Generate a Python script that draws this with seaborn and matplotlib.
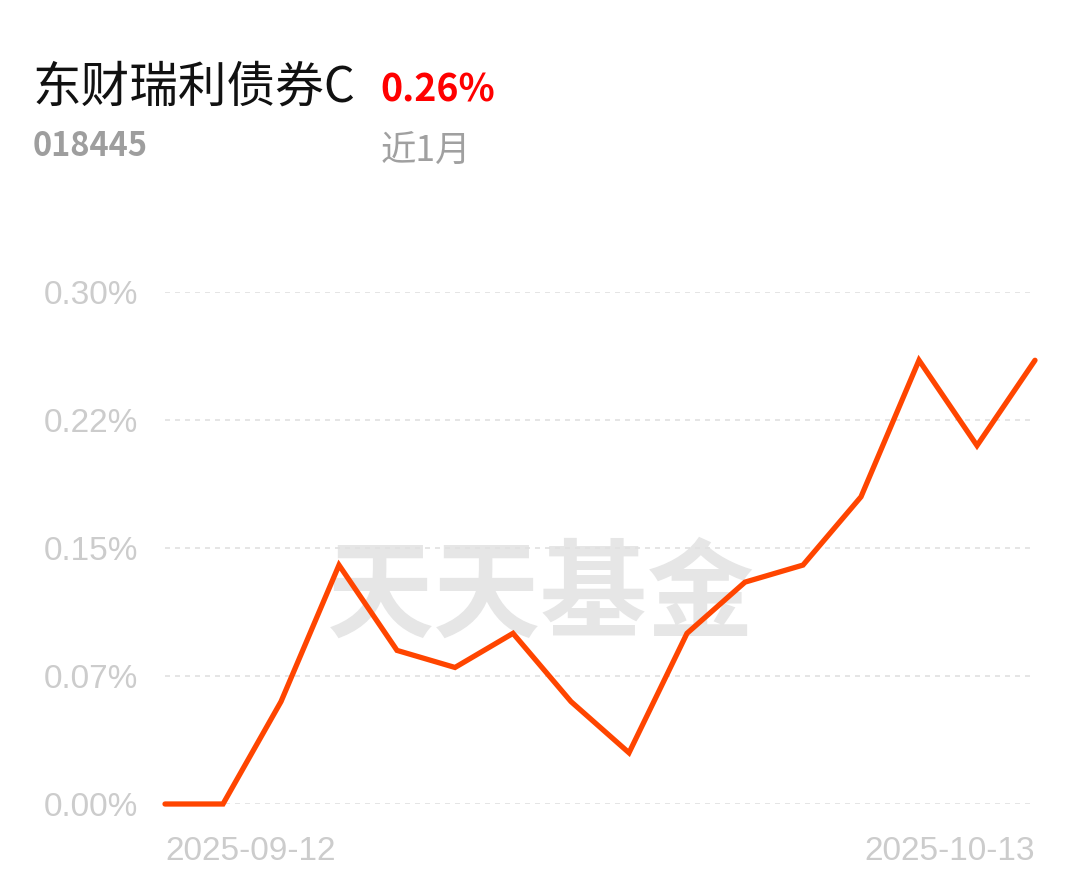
import numpy as np
import pandas as pd
import matplotlib.pyplot as plt
import seaborn as sns

# fund return over the last month (%), one value per trading day
dates = ["2025-09-12", "2025-09-15", "2025-09-16", "2025-09-17", "2025-09-18",
         "2025-09-19", "2025-09-22", "2025-09-23", "2025-09-24", "2025-09-25",
         "2025-09-26", "2025-09-29", "2025-09-30", "2025-10-09", "2025-10-10",
         "2025-10-13"]
returns = [0.00, 0.00, 0.06, 0.14, 0.09, 0.08, 0.10, 0.06, 0.03, 0.10,
           0.13, 0.14, 0.18, 0.26, 0.21, 0.26]
y_ticks = [0.0, 0.075, 0.15, 0.225, 0.30]
y_labels = ["0.00%", "0.07%", "0.15%", "0.22%", "0.30%"]

fund_name = "东财瑞利债券C"
fund_code = "018445"
period_ret = "0.26%"
period = "近1月"

df = pd.DataFrame({"idx": range(len(dates)), "date": dates, "ret": returns})

sns.set_theme(style="white")
plt.rcParams["font.family"] = ["Noto Sans CJK SC", "DejaVu Sans"]

fig = plt.figure(figsize=(10.8, 8.81), dpi=100)
ax = fig.add_axes([165 / 1080, 77 / 881, 870 / 1080, 512 / 881])

# watermark, drawn inside the axes so it sits under the line
ax.text(541 / 1080, 1 - 597 / 881, "天天基金", transform=fig.transFigure,
        fontsize=77, fontweight="bold", color="#e6e6e6", ha="center",
        va="center", zorder=0)

sns.lineplot(data=df, x="idx", y="ret", ax=ax, color="#ff4500", linewidth=3.8,
             solid_capstyle="round", solid_joinstyle="miter", zorder=3,
             clip_on=False)

ax.set_xlim(0, len(dates) - 1)
ax.set_ylim(0, 0.30)
for t in y_ticks:
    ax.axhline(t, color="#e0e0e0", linestyle=(0, (3, 3)), linewidth=1.2, zorder=1)

ax.set_yticks(y_ticks)
ax.set_yticklabels(y_labels, fontsize=24, color="#cccccc", family="Liberation Sans")
ax.set_xticks([0, len(dates) - 1])
ax.set_xticklabels([dates[0], dates[-1]], fontsize=24, color="#cccccc",
                   family="Liberation Sans")
xl = ax.get_xticklabels()
xl[0].set_ha("left")
xl[1].set_ha("right")
ax.tick_params(axis="y", length=0, pad=19)
ax.tick_params(axis="x", length=0, pad=23)
ax.set_xlabel("")
ax.set_ylabel("")
for s in ax.spines.values():
    s.set_visible(False)

# header
fig.text(33 / 1080, 1 - 88 / 881, fund_name, fontsize=35, color="#111111",
         ha="left", va="center")
fig.text(380 / 1080, 1 - 90 / 881, period_ret, fontsize=27, color="#ff0000",
         fontweight="bold", ha="left", va="center")
fig.text(33 / 1080, 1 - 147 / 881, fund_code, fontsize=23.5, color="#9e9e9e",
         fontweight="bold", ha="left", va="center")
fig.text(381 / 1080, 1 - 152 / 881, period, fontsize=25.5, color="#a0a0a0",
         ha="left", va="center")

fig.savefig("out.png", dpi=100, facecolor="white")
